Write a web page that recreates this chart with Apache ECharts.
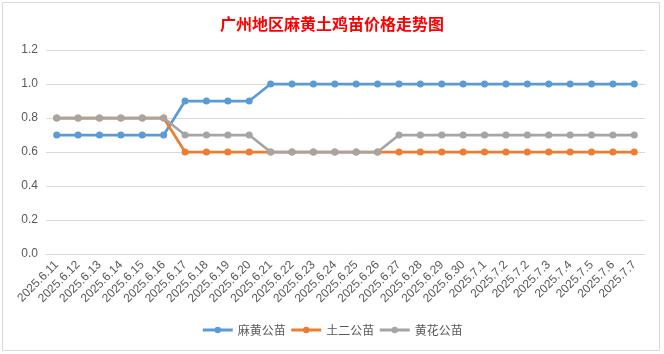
<!DOCTYPE html>
<html>
<head>
<meta charset="utf-8">
<script src="https://cdn.jsdelivr.net/npm/echarts@6/dist/echarts.min.js"></script>
<style>
  html, body { margin: 0; padding: 0; background: #fff; }
  #chart { width: 664px; height: 354px; }
</style>
</head>
<body>
<div id="chart"></div>
<script>
const dates = [
  '2025.6.11', '2025.6.12', '2025.6.13', '2025.6.14', '2025.6.15', '2025.6.16',
  '2025.6.17', '2025.6.18', '2025.6.19', '2025.6.20', '2025.6.21', '2025.6.22',
  '2025.6.23', '2025.6.24', '2025.6.25', '2025.6.26', '2025.6.27', '2025.6.28',
  '2025.6.29', '2025.6.30', '2025.7.1', '2025.7.2', '2025.7.2', '2025.7.3',
  '2025.7.4', '2025.7.5', '2025.7.6', '2025.7.7'
];
const mahuang = [0.7, 0.7, 0.7, 0.7, 0.7, 0.7, 0.9, 0.9, 0.9, 0.9, 1, 1, 1, 1,
  1, 1, 1, 1, 1, 1, 1, 1, 1, 1, 1, 1, 1, 1];
const tuer = [0.8, 0.8, 0.8, 0.8, 0.8, 0.8, 0.6, 0.6, 0.6, 0.6, 0.6, 0.6, 0.6, 0.6,
  0.6, 0.6, 0.6, 0.6, 0.6, 0.6, 0.6, 0.6, 0.6, 0.6, 0.6, 0.6, 0.6, 0.6];
const huanghua = [0.8, 0.8, 0.8, 0.8, 0.8, 0.8, 0.7, 0.7, 0.7, 0.7, 0.6, 0.6, 0.6, 0.6,
  0.6, 0.6, 0.7, 0.7, 0.7, 0.7, 0.7, 0.7, 0.7, 0.7, 0.7, 0.7, 0.7, 0.7];

const myChart = echarts.init(document.getElementById('chart'));

const lineSeries = (name, color, data) => ({
  name: name,
  type: 'line',
  symbol: 'circle',
  symbolSize: 7,
  lineStyle: { color: color, width: 2.75 },
  itemStyle: { color: color },
  data: data,
});

const option = {
  textStyle: { fontFamily: '"Liberation Sans", "Noto Sans CJK SC", sans-serif' },
  title: {
    text: '广州地区麻黄土鸡苗价格走势图',
    left: 'center',
    top: 11,
    textStyle: {
      color: '#FF0000',
      fontSize: 16,
      fontWeight: 'bold',
      fontFamily: '"Noto Sans CJK SC", sans-serif',
    },
  },
  graphic: [{
    type: 'rect',
    shape: { x: 2.5, y: 2.5, width: 657, height: 348 },
    style: { fill: 'none', stroke: '#d9d9d9', lineWidth: 1 },
    silent: true,
  }],
  legend: {
    bottom: 13,
    left: 'center',
    itemWidth: 30,
    itemHeight: 8,
    itemGap: 4,
    lineStyle: { width: 3 },
    textStyle: { color: '#595959', fontSize: 12, fontFamily: '"Noto Sans CJK SC", sans-serif' },
    data: ['麻黄公苗', '土二公苗', '黄花公苗'],
  },
  grid: {
    left: 46,
    right: 19,
    top: 50,
    bottom: 100,
  },
  xAxis: {
    type: 'category',
    boundaryGap: true,
    data: dates,
    axisLine: { lineStyle: { color: '#d9d9d9' } },
    axisTick: { show: false },
    axisLabel: {
      interval: 0,
      rotate: 45,
      color: '#595959',
      fontSize: 12,
      margin: 9,
    },
  },
  yAxis: {
    type: 'value',
    min: 0,
    max: 1.2,
    interval: 0.2,
    axisLine: { show: false },
    axisTick: { show: false },
    splitLine: { lineStyle: { color: '#d9d9d9' } },
    axisLabel: {
      color: '#595959',
      fontSize: 12,
      margin: 8,
      formatter: (v) => v.toFixed(1),
    },
  },
  series: [
    lineSeries('麻黄公苗', '#5B9BD5', mahuang),
    lineSeries('土二公苗', '#ED7D31', tuer),
    lineSeries('黄花公苗', '#A5A5A5', huanghua),
  ],
};

option && myChart.setOption(option);
</script>
</body>
</html>
